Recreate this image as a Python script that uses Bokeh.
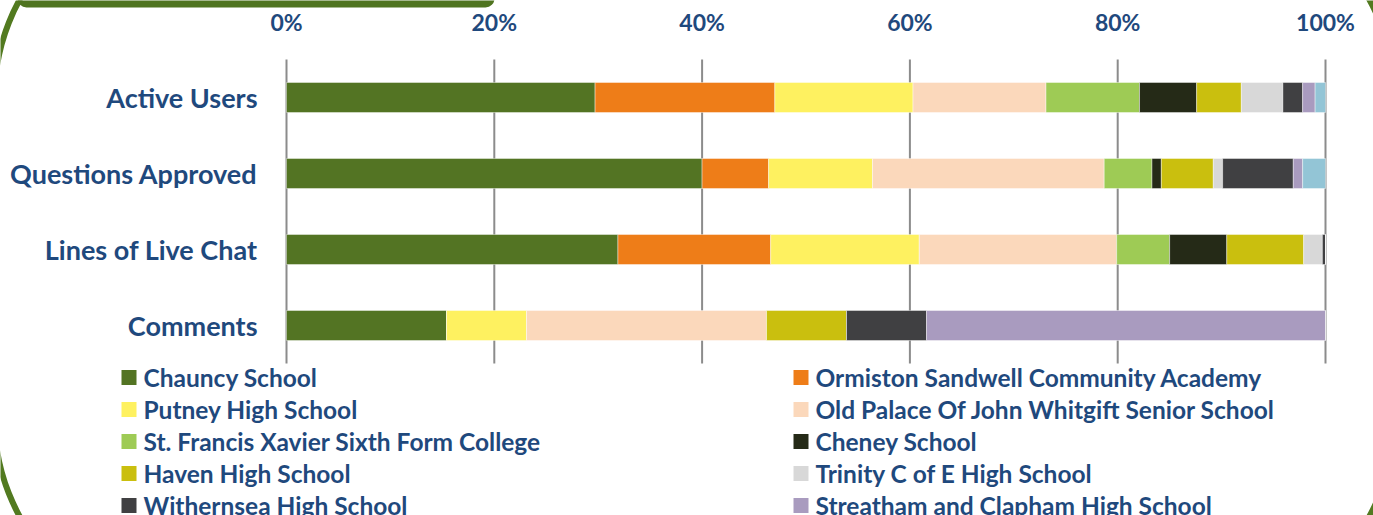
import math
from bokeh.plotting import figure
from bokeh.models import Range1d, FixedTicker, ColumnDataSource
from bokeh.core.properties import value
from bokeh.embed import file_html
from bokeh.resources import INLINE

# ---------------- data (percent of each activity) ----------------
categories = ["Active Users", "Questions Approved", "Lines of Live Chat", "Comments"]
tick_values = [0, 20, 40, 60, 80, 100]
tick_labels = ["0%", "20%", "40%", "60%", "80%", "100%"]

series_names = [
    "Chauncy School",
    "Ormiston Sandwell Community Academy",
    "Putney High School",
    "Old Palace Of John Whitgift Senior School",
    "St. Francis Xavier Sixth Form College",
    "Cheney School",
    "Haven High School",
    "Trinity C of E High School",
    "Withernsea High School",
    "Streatham and Clapham High School",
    "(legend entry cut off)",
]
series_colors = [
    "#537423", "#EE7D18", "#FEF160", "#FBD8BB", "#9ECB55", "#252A17",
    "#CABF0E", "#D8D8D8", "#404042", "#A99BBF", "#93C5D6",
]

chauncy = [29.7, 40.0, 31.9, 15.4]
ormiston = [17.3, 6.4, 14.7, 0.0]
putney = [13.3, 10.0, 14.3, 7.7]
old_palace = [12.8, 22.3, 19.0, 23.1]
st_francis = [9.0, 4.6, 5.1, 0.0]
cheney = [5.5, 0.9, 5.5, 0.0]
haven = [4.3, 5.0, 7.4, 7.7]
trinity = [4.0, 0.9, 1.8, 0.0]
withernsea = [1.9, 6.8, 0.3, 7.7]
streatham = [1.2, 0.9, 0.0, 38.4]
other = [1.0, 2.2, 0.0, 0.0]

series_values = [chauncy, ormiston, putney, old_palace, st_francis, cheney,
                 haven, trinity, withernsea, streatham, other]

# ---------------- layout constants ----------------
W, H = 1373, 515
X0_PX, X100_PX = 286, 1325
PX_PER_PCT = (X100_PX - X0_PX) / 100.0
ROW0_PX, ROW_STEP = 97, 76
TEXT = "#1F497D"
FONT = "Lato"


def py(v):
    return H - v


p = figure(
    width=W, height=H,
    x_range=Range1d(-X0_PX / PX_PER_PCT, (W - X0_PX) / PX_PER_PCT),
    y_range=Range1d((H - ROW0_PX) / ROW_STEP, -ROW0_PX / ROW_STEP),
    output_backend="svg", toolbar_location=None, min_border=0,
    x_axis_location="above", y_axis_location="left",
)
p.extra_x_ranges = {"px": Range1d(0, W)}
p.extra_y_ranges = {"px": Range1d(0, H)}
p.outline_line_color = None
p.xgrid.visible = False
p.ygrid.visible = False
p.background_fill_color = "white"
p.border_fill_color = "white"

# ---------------- decorative frame (only its rounded corners reach the page) ----------------
R = 203
p.arc(x=[197, 197, 1191, 1191], y=[py(97), py(418), py(418), py(97)], radius=R,
      radius_units="screen",
      start_angle=[math.pi / 2, math.pi, 1.5 * math.pi, 0.0],
      end_angle=[math.pi, 1.5 * math.pi, 2 * math.pi, math.pi / 2],
      line_color="#527A20", line_width=6, x_range_name="px", y_range_name="px")
p.quad(left=[17], right=[494], top=[py(-30)], bottom=[py(7)], border_radius=9,
       fill_color="#4F7420", line_color=None,
       x_range_name="px", y_range_name="px")

# ---------------- gridlines ----------------
p.segment(x0=tick_values, x1=tick_values, y0=[-0.5] * len(tick_values),
          y1=[len(categories) - 0.5] * len(tick_values),
          line_color="#8C8C8C", line_width=2)

# ---------------- stacked bars ----------------
ys = list(range(len(categories)))
totals = [sum(s[i] for s in series_values) for i in ys]
cum = [0.0] * len(categories)
for name, color, vals in zip(series_names, series_colors, series_values):
    pct = [v / t * 100.0 for v, t in zip(vals, totals)]
    left = cum[:]
    right = [a + b for a, b in zip(cum, pct)]
    cum = right
    src = ColumnDataSource(dict(y=ys, left=left, right=right))
    p.hbar(y="y", left="left", right="right", height=30 / ROW_STEP, source=src,
           fill_color=color, line_color="white", line_width=0.6, line_alpha=0.7)

# ---------------- axes ----------------
xa = p.xaxis[0]
xa.fixed_location = (35 - ROW0_PX) / ROW_STEP
xa.ticker = FixedTicker(ticks=tick_values)
xa.major_label_overrides = {v: l for v, l in zip(tick_values, tick_labels)}
ya = p.yaxis[0]
ya.fixed_location = 0
ya.ticker = FixedTicker(ticks=ys)
ya.major_label_overrides = {i: c for i, c in zip(ys, categories)}
for ax in (xa, ya):
    ax.axis_line_color = None
    ax.major_tick_line_color = None
    ax.minor_tick_line_color = None
    ax.major_tick_out = 0
    ax.major_tick_in = 0
    ax.major_label_text_font = FONT
    ax.major_label_text_font_style = "bold"
    ax.major_label_text_color = TEXT
xa.major_label_text_font_size = "23px"
ya.major_label_text_font_size = "27px"
xa.major_label_standoff = 0
ya.major_label_standoff = 29

# ---------------- legend (two columns, row-major) ----------------
n_show = 10
lx_marker = [128.5, 800.5]
lx_text = [143, 815]
mx, my, tx, ty, lc, ln = [], [], [], [], [], []
for k in range(n_show):
    col, row = k % 2, k // 2
    yc = 377 + 32 * row
    mx.append(lx_marker[col]); my.append(py(yc))
    tx.append(lx_text[col]); ty.append(py(yc))
    lc.append(series_colors[k]); ln.append(series_names[k])
p.rect(x=mx, y=my, width=15, height=15, width_units="screen", height_units="screen",
       fill_color=lc, line_color=None, x_range_name="px", y_range_name="px")
p.text(x=tx, y=ty, text=ln, text_baseline="middle", text_align="left",
       text_font=value(FONT), text_font_style="bold", text_font_size="24.5px",
       text_color=TEXT, x_range_name="px", y_range_name="px")

open("out.html", "w").write(file_html(p, INLINE))
